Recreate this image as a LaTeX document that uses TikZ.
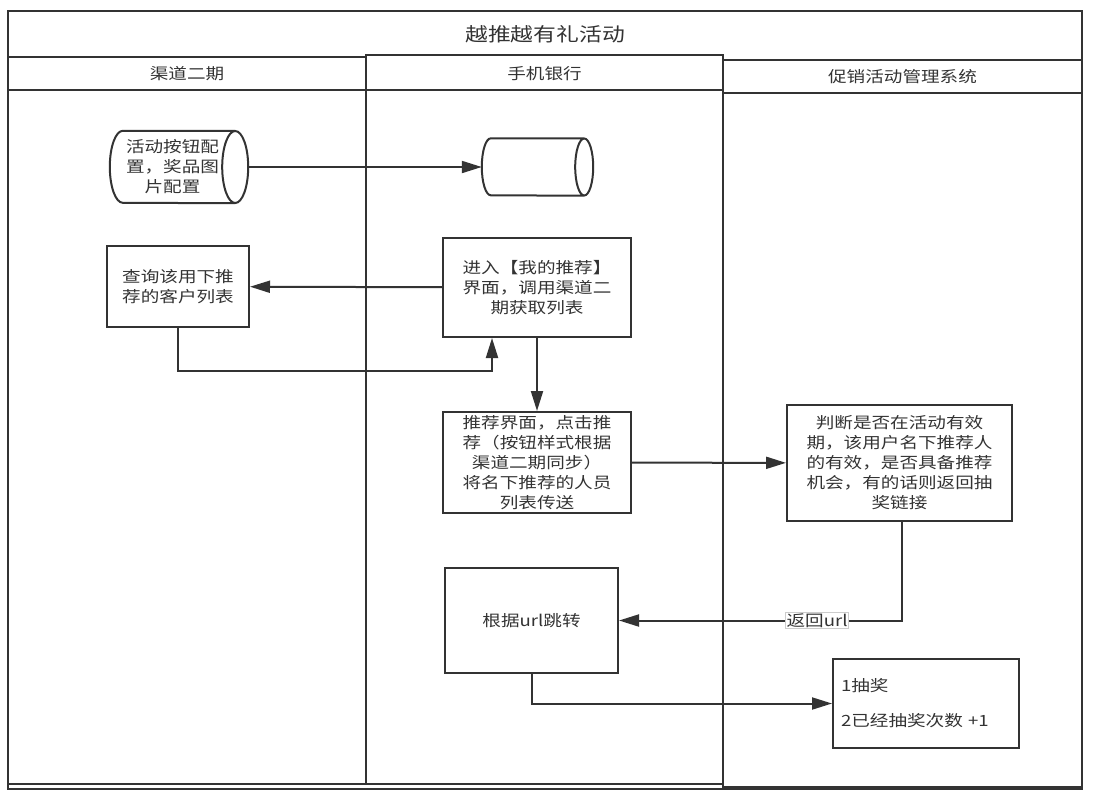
\documentclass[tikz,border=0pt]{standalone}
\usepackage{fontspec}
\setmainfont{Noto Sans CJK SC}[FakeStretch=1.2]
\usetikzlibrary{arrows.meta}
\definecolor{ink}{HTML}{333333}
\tikzset{
  lane/.style={draw=ink, line width=2pt},
  box/.style={draw=ink, line width=2pt, rectangle, align=center, text=ink,
    font=\fontsize{15.5}{20}\selectfont, inner sep=2pt},
  store/.style={rectangle, align=center, text=ink, inner sep=0pt,
    font=\fontsize{15.5}{20}\selectfont},
  flow/.style={draw=ink, line width=2pt, -{Triangle[length=20pt,width=12pt]}},
  tag/.style={draw=gray!40, line width=0.6pt, fill=white, text=ink, inner sep=1pt,
    font=\fontsize{15.5}{18}\selectfont}
}
% outline of a lying cylinder round a store node: node, x radius, y radius
\newcommand\cylout[3]{%
  \draw[lane] ([xshift=#2pt]#1.north west)
    arc[start angle=-90, end angle=-270, x radius=#2, y radius=#3] -- (#1.south east)
    (#1.north east) -- ([xshift=#2pt]#1.north west)
    (#1.east) ellipse[x radius=#2, y radius=#3];}
\begin{document}
\begin{tikzpicture}[x=1pt,y=-1pt]
  \useasboundingbox (0,0) rectangle (1094,798);
  % pool and lanes
  \draw[lane] (8,11) rectangle (1082,789);
  \draw[lane] (8,57) rectangle (366,784);
  \draw[lane] (366,55) rectangle (723,784);
  \draw[lane] (723,60) rectangle (1082,787);
  \draw[lane] (8,90) -- (723,90);
  \draw[lane] (723,93) -- (1082,93);
  \draw
    (545,34) node[text=ink, font=\fontsize{19}{22}\selectfont] (title){越推越有礼活动}
    (187,73.5) node[text=ink, font=\fontsize{15.5}{18}\selectfont] (lane1){渠道二期}
    (544.5,73.5) node[text=ink, font=\fontsize{15.5}{18}\selectfont] (lane2){手机银行}
    (902.5,76.5) node[text=ink, font=\fontsize{15.5}{18}\selectfont] (lane3){促销活动管理系统};
  % steps
  \node[store, minimum width=125pt, minimum height=72pt] (cfg) at (172.5,167)
    {活动按钮配\\置，奖品图\\片配置};
  \cylout{cfg}{13}{36}
  \node[store, minimum width=102pt, minimum height=57pt] (cache) at (533,167) {};
  \cylout{cache}{9}{28.5}
  \node[box, minimum width=142pt, minimum height=81pt] (query) at (178,286.5)
    {查询该用下推\\荐的客户列表};
  \node[box, minimum width=188pt, minimum height=99pt] (enter) at (537,287.5)
    {进入【我的推荐】\\界面，调用渠道二\\期获取列表};
  \node[box, minimum width=188pt, minimum height=101pt] (recommend) at (537,462.5)
    {推荐界面，点击推\\荐（按钮样式根据\\渠道二期同步）\\将名下推荐的人员\\列表传送};
  \node[box, minimum width=225pt, minimum height=116pt] (judge) at (899.5,463)
    {判断是否在活动有效\\期，该用户名下推荐人\\的有效，是否具备推荐\\机会，有的话则返回抽\\奖链接};
  \node[box, minimum width=173pt, minimum height=105pt] (jump) at (531.5,620.5)
    {根据url跳转};
  \node[box, minimum width=186pt, minimum height=89pt, align=left, text width=170pt,
    font=\fontsize{15.5}{35}\selectfont] (lottery) at (926,703.5)
    {1抽奖\\2已经抽奖次数 +1};
  \coordinate (back) at (178,371);
  % connectors
  \begin{scope}[flow]
    \draw ([xshift=13pt]cfg.east) -- (cache.west);
    \draw (enter) -- (query);
    \draw (query.south) -- (back) -| ([xshift=-45pt]enter.south);
    \draw (enter) -- (recommend);
    \draw (recommend) -- (judge);
    \draw ([xshift=2.5pt]judge.south) |- node[tag, pos=0.65] (url){返回url} (jump.east);
    \draw (jump.south) |- (lottery.west);
  \end{scope}
\end{tikzpicture}
\end{document}
